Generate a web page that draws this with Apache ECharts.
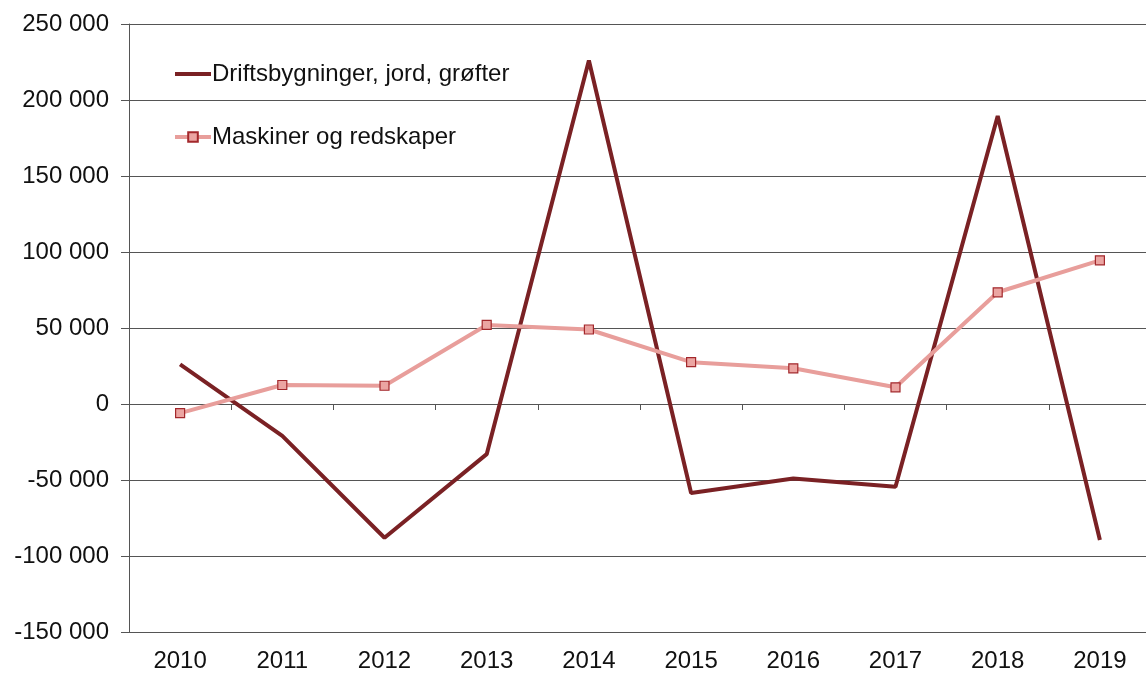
<!DOCTYPE html>
<html><head><meta charset="utf-8">
<script src="https://cdn.jsdelivr.net/npm/echarts@6/dist/echarts.min.js"></script>
<style>html,body{margin:0;padding:0;background:#fff}#c{width:1146px;height:675px}</style>
</head><body><div id="c"></div>
<script>
const categories = ['2010','2011','2012','2013','2014','2015','2016','2017','2018','2019'];
const drifts = [26000, -21000, -88000, -33000, 226000, -58500, -49000, -54500, 189500, -89500];
const maskiner = [-6000, 12500, 12000, 52000, 49000, 27500, 23500, 11000, 73500, 94500];
const yTicks = { min: -150000, max: 250000, interval: 50000 };
const nameD = 'Driftsbygninger, jord, grøfter';
const nameM = 'Maskiner og redskaper';

const fmt = v => { const s = Math.abs(v).toString().replace(/\B(?=(\d{3})+(?!\d))/g, ' '); return (v < 0 ? '-' : '') + s; };
const chart = echarts.init(document.getElementById('c'));
chart.setOption({
  animation: false,
  textStyle: { fontFamily: 'Liberation Sans, Arial, sans-serif' },
  grid: { left: 129, right: -5, top: 24, bottom: 43, outerBoundsMode: 'none', containLabel: false },
  legend: {
    orient: 'vertical', left: 168, top: 57, itemGap: 39, itemWidth: 36, itemHeight: 12,
    textStyle: { fontSize: 24, color: '#111', padding: [0, 0, 0, -4] },
    data: [
      { name: nameD, icon: 'path://M0,4 L36,4 L36,8 L0,8 Z' },
      { name: nameM, lineStyle: { width: 4 } }
    ]
  },
  xAxis: [
    { type: 'category', data: categories, boundaryGap: true,
      axisLine: { onZero: true, lineStyle: { color: '#555', width: 1 } },
      axisTick: { show: true, length: 6, lineStyle: { color: '#555' } },
      axisLabel: { show: false } },
    { type: 'category', data: categories, boundaryGap: true, position: 'bottom', offset: 0,
      axisLine: { show: false }, axisTick: { show: false },
      axisLabel: { fontSize: 24, color: '#111', margin: 17 } }
  ],
  yAxis: {
    type: 'value', min: yTicks.min, max: yTicks.max, interval: yTicks.interval,
    axisLine: { show: true, onZero: false, lineStyle: { color: '#555' } },
    axisTick: { show: true, length: 8, lineStyle: { color: '#555' } },
    splitLine: { lineStyle: { color: '#555', width: 1 } },
    axisLabel: { fontSize: 24, color: '#111', margin: 20, formatter: fmt }
  },
  series: [
    { name: nameD, type: 'line', data: drifts, symbol: 'none',
      lineStyle: { color: '#7a2124', width: 4 }, itemStyle: { color: '#7a2124' } },
    { name: nameM, type: 'line', data: maskiner, symbol: 'rect', symbolSize: 9,
      lineStyle: { color: '#e89e9b', width: 4 },
      itemStyle: { color: '#eba5a2', borderColor: '#a3282c', borderWidth: 1.2 } }
  ]
});
</script></body></html>
